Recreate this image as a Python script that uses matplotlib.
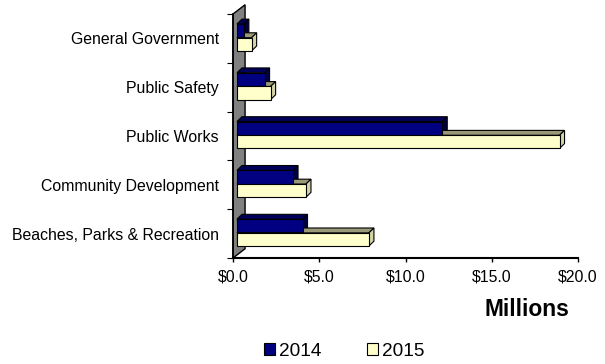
import numpy as np
import matplotlib.pyplot as plt
from matplotlib.patches import Polygon

plt.rcParams['font.family'] = ['Liberation Sans', 'DejaVu Sans']

categories = ['Beaches, Parks & Recreation', 'Community Development',
              'Public Works', 'Public Safety', 'General Government']
spend_2014 = [3.8, 3.25, 11.9, 1.6, 0.4]
spend_2015 = [7.65, 4.0, 18.7, 1.95, 0.85]
xticks = [0, 5, 10, 15, 20]
xticklabels = ['$0.0', '$5.0', '$10.0', '$15.0', '$20.0']

W, H = 605, 364
fig = plt.figure(figsize=(W / 100, H / 100), dpi=100)
ax = fig.add_axes([233 / W, (H - 258) / H, 345 / W, 244 / H])
ax.set_xlim(0, 20)
ax.set_ylim(-0.5, 4.5)

# depth of the fake 3d extrusion, in data units
dx, dy = 0.29, 0.1
wall_dx, wall_dy = 0.7, 0.19
x0 = 0.23
h = 0.27

# grey side wall
wall = Polygon([(0, -0.5), (0, 4.5), (wall_dx, 4.5 + wall_dy), (wall_dx, -0.5 + wall_dy)],
               closed=True, facecolor='#808080', edgecolor='black', lw=1.0,
               clip_on=False, zorder=1)
ax.add_patch(wall)

y = np.arange(len(categories))


def bars3d(ypos, vals, front, top, side):
    rects = ax.barh(ypos, vals, height=h, left=x0, color=front,
                    edgecolor='black', lw=0.8, zorder=3)
    for r in rects:
        l, b = r.get_x(), r.get_y()
        rr, t = l + r.get_width(), b + r.get_height()
        ax.add_patch(Polygon([(l, t), (l + dx, t + dy), (rr + dx, t + dy), (rr, t)],
                             closed=True, facecolor=top, edgecolor='black', lw=0.8,
                             zorder=2, clip_on=False))
        ax.add_patch(Polygon([(rr, b), (rr, t), (rr + dx, t + dy), (rr + dx, b + dy)],
                             closed=True, facecolor=side, edgecolor='black', lw=0.8,
                             zorder=2, clip_on=False))
    return rects


b14 = bars3d(y + 0.16, spend_2014, '#000080', '#00005a', '#000040')
b15 = bars3d(y - 0.12, spend_2015, '#FFFFCC', '#9a9a78', '#d4d4aa')

for s in ['top', 'right']:
    ax.spines[s].set_visible(False)
ax.spines['left'].set_linewidth(1.2)
ax.spines['bottom'].set_linewidth(1.5)

ax.set_xticks(xticks)
ax.set_xticklabels(xticklabels, fontsize=11.4)
ax.tick_params(axis='x', direction='out', length=3, width=1, pad=5)

ax.set_yticks(np.arange(-0.5, 5, 1))
ax.set_yticklabels([])
ax.tick_params(axis='y', which='major', direction='out', length=4, width=0.8)
ax.set_yticks(y, minor=True)
ax.set_yticklabels(categories, minor=True, fontsize=11.4)
ax.tick_params(axis='y', which='minor', length=0, pad=10)

fig.text(527 / W, 1 - 310 / H, 'Millions', fontsize=16.4, fontweight='bold',
         ha='center', va='center')

leg = fig.legend([b14, b15], ['2014', '2015'], loc='center', ncol=2,
                 bbox_to_anchor=(344 / W, 1 - 351 / H), frameon=False,
                 fontsize=13.7, handlelength=0.6, handleheight=0.6,
                 handletextpad=0.2, columnspacing=2.4)

fig.savefig('out.png', dpi=100)
